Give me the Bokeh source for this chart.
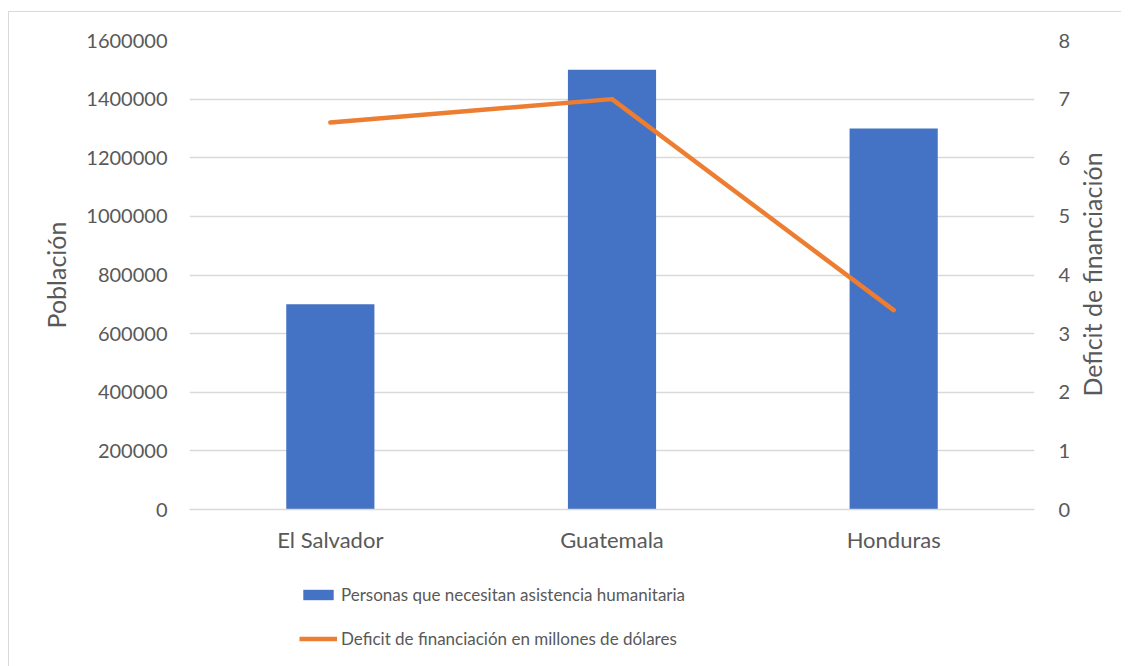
import math
from bokeh.plotting import figure
from bokeh.layouts import row, column
from bokeh.models import (FactorRange, Range1d, LinearAxis, FixedTicker, Legend, LegendItem,
                          ColumnDataSource, NumeralTickFormatter, Label)
from bokeh.embed import file_html
from bokeh.resources import INLINE

countries = ["El Salvador", "Guatemala", "Honduras"]
personas = [700000, 1500000, 1300000]
deficit = [6.6, 7.0, 3.4]
left_ticks = [0, 200000, 400000, 600000, 800000, 1000000, 1200000, 1400000, 1600000]
right_ticks = [0, 1, 2, 3, 4, 5, 6, 7, 8]
bar_label = "Personas que necesitan asistencia humanitaria"
line_label = "Deficit de financiación en millones de dólares"
left_title = "Población"
right_title = "Deficit de financiación"

FONT = "Lato"
TXT = "#595959"
GRID = "#d9d9d9"
BLUE = "#4472C4"
ORANGE = "#ED7D31"
BORDER = "1px solid #d9d9d9"

src = ColumnDataSource(dict(c=countries, p=personas, d=deficit))

# ---------------- main chart ----------------
p = figure(frame_width=844, frame_height=468, output_backend="svg", toolbar_location=None,
           x_range=FactorRange(*countries, range_padding=0),
           y_range=Range1d(0, 1600000),
           min_border_left=180, min_border_right=40, min_border_top=28, min_border_bottom=45)
p.margin = (11, 0, 0, 8)
p.styles = {"border-left": BORDER, "border-top": BORDER}
p.extra_y_ranges = {"right": Range1d(0, 8)}
p.outline_line_color = None
p.background_fill_color = "white"
p.border_fill_color = "white"

bars = p.vbar(x="c", top="p", width=0.313, source=src, fill_color=BLUE, line_color=None)
line = p.line(x="c", y="d", source=src, y_range_name="right", line_color=ORANGE,
              line_width=4.5, line_cap="round", line_join="round")

p.yaxis.ticker = FixedTicker(ticks=left_ticks)
p.yaxis.formatter = NumeralTickFormatter(format="0")
p.yaxis.axis_label = left_title
ax_r = LinearAxis(y_range_name="right", ticker=FixedTicker(ticks=right_ticks))
p.add_layout(ax_r, "right")

for ax in [p.yaxis[0], ax_r, p.xaxis[0]]:
    ax.major_tick_line_color = None
    ax.minor_tick_line_color = None
    ax.major_tick_out = 0
    ax.major_tick_in = 0
    ax.minor_tick_out = 0
    ax.minor_tick_in = 0
    ax.major_label_text_font = FONT
    ax.major_label_text_color = TXT

for ax in [p.yaxis[0], ax_r]:
    ax.axis_line_color = None
    ax.major_label_text_font_size = "20px"
    ax.axis_label_text_font = FONT
    ax.axis_label_text_font_size = "25px"
    ax.axis_label_text_color = TXT
    ax.axis_label_text_font_style = "normal"
p.yaxis[0].major_label_standoff = 22
p.yaxis[0].axis_label_standoff = 12
ax_r.major_label_standoff = 24
ax_r.major_label_orientation = "horizontal"

p.xaxis.axis_line_color = GRID
p.xaxis.axis_line_width = 1.3
p.xaxis.major_label_text_font_size = "22px"
p.xaxis.major_label_standoff = 16

p.xgrid.grid_line_color = None
p.ygrid.grid_line_color = GRID
p.ygrid.grid_line_width = 1.3
p.ygrid.ticker = FixedTicker(ticks=left_ticks)

# ---------------- right axis title ----------------
p3 = figure(width=48, height=541, output_backend="svg", toolbar_location=None,
            x_axis_type=None, y_axis_type=None, min_border=0,
            x_range=Range1d(0, 48), y_range=Range1d(0, 541))
p3.margin = (11, 0, 0, 0)
p3.styles = {"border-top": BORDER}
p3.outline_line_color = None
p3.add_layout(Label(x=18, y=279, text=right_title, angle=math.pi / 2,
                    text_align="center", text_baseline="middle",
                    text_font=FONT, text_font_size="25px", text_color=TXT))

# ---------------- legend strip ----------------
p2 = figure(width=1064, height=112, output_backend="svg", toolbar_location=None,
            x_axis_type=None, y_axis_type=None, min_border=0,
            x_range=FactorRange(*countries), y_range=Range1d(0, 1600000))
p2.margin = (0, 0, 0, 8)
p2.styles = {"border-left": BORDER}
p2.outline_line_color = None
lb = p2.vbar(x="c", top="p", width=0.313, source=src, fill_color=BLUE, line_color=None, visible=False)
ll = p2.line(x="c", y="d", source=src, line_color=ORANGE, line_width=4.5, visible=False)

legend = Legend(items=[LegendItem(label=bar_label, renderers=[lb]),
                       LegendItem(label=line_label, renderers=[ll])],
                location=(110, 17), orientation="vertical", click_policy="none",
                border_line_color=None, background_fill_alpha=0,
                inactive_fill_alpha=0,
                padding=0, margin=0, spacing=23, glyph_width=38, glyph_height=13,
                label_standoff=4, label_text_font=FONT, label_text_font_size="17px",
                label_text_color=TXT)
p2.add_layout(legend, "center")

layout = row(column(p, p2), p3)
open("out.html", "w").write(file_html(layout, INLINE))
